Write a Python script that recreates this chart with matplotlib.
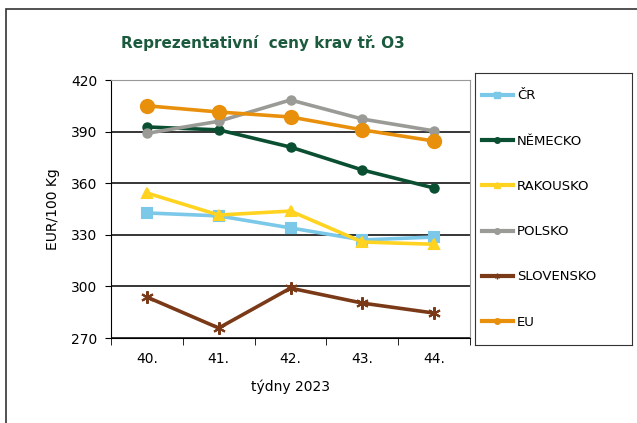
import matplotlib.pyplot as plt
from matplotlib.patches import Rectangle
from matplotlib.lines import Line2D

weeks = ["40.", "41.", "42.", "43.", "44."]
cr = [342.7, 341, 334, 327, 328.7]
nemecko = [392.7, 391, 381, 367.7, 357.2]
rakousko = [354.3, 341.5, 343.8, 325.8, 324.5]
polsko = [389, 396, 408.4, 397.3, 390.4]
slovensko = [293.8, 275.8, 299, 290.3, 284.5]
eu = [405, 401.4, 398.5, 391, 384.5]

series = [
    ("ČR", cr, "#7cc8e8", "s", 7),
    ("NĚMECKO", nemecko, "#0b4f33", "o", 6),
    ("RAKOUSKO", rakousko, "#ffd320", "^", 7.5),
    ("POLSKO", polsko, "#9a9a96", "o", 6),
    ("SLOVENSKO", slovensko, "#7a3a18", (6, 2, 0), 9),
    ("EU", eu, "#e8900c", "o", 9.5),
]

fig = plt.figure(figsize=(6.37, 4.23), dpi=100)
fig.patches.append(Rectangle((6 / 637, -0.01), 1.0, 1 - 9 / 423 + 0.01,
                             transform=fig.transFigure, fill=False,
                             edgecolor="#333333", lw=1.2))

ax = fig.add_axes([111 / 637, 1 - 338 / 423, 359 / 637, 258 / 423])
x = range(len(weeks))
for name, vals, col, mk, ms in series:
    ax.plot(x, vals, color=col, lw=2.6, marker=mk, markersize=ms,
            markeredgecolor=col, markeredgewidth=1.5, label=name, zorder=3)

ax.set_xlim(-0.5, 4.5)
ax.set_ylim(270, 420)
ax.set_yticks([270, 300, 330, 360, 390, 420])
ax.set_xticks(list(x))
ax.set_xticklabels(weeks)
ax.set_xticks([-0.5, 0.5, 1.5, 2.5, 3.5, 4.5], minor=True)
ax.tick_params(axis="x", which="major", length=0, pad=10, labelsize=10)
ax.tick_params(axis="x", which="minor", length=5, direction="out", color="black")
ax.tick_params(axis="y", length=4, direction="out", labelsize=10, pad=6)
ax.grid(axis="y", color="black", lw=1.1, zorder=1)
for s in ["top", "right"]:
    ax.spines[s].set_color("#999999")
ax.spines["left"].set_color("black")
ax.spines["bottom"].set_color("black")

ax.set_ylabel("EUR/100 Kg", fontsize=10, labelpad=8)
ax.set_xlabel("týdny 2023", fontsize=10, labelpad=10)
fig.text(0.19, 1 - 43 / 423, "Reprezentativní  ceny krav tř. O3", fontsize=11,
         fontweight="bold", color="#1c5a3e", va="center")

handles = [Line2D([0], [0], color=col, lw=3, marker=mk, markersize=4,
                  markeredgecolor=col) for name, vals, col, mk, ms in series]
lax = fig.add_axes([475 / 637, 1 - 345 / 423, 157 / 637, 272 / 423])
lax.set_xticks([])
lax.set_yticks([])
for s in lax.spines.values():
    s.set_color("#333333")
leg = lax.legend(handles, [s[0] for s in series], loc="center left",
                 frameon=False, fontsize=9.5, handlelength=2.4,
                 labelspacing=2.45, borderaxespad=0.1, handletextpad=0.3)

fig.savefig("out.png", dpi=100)
